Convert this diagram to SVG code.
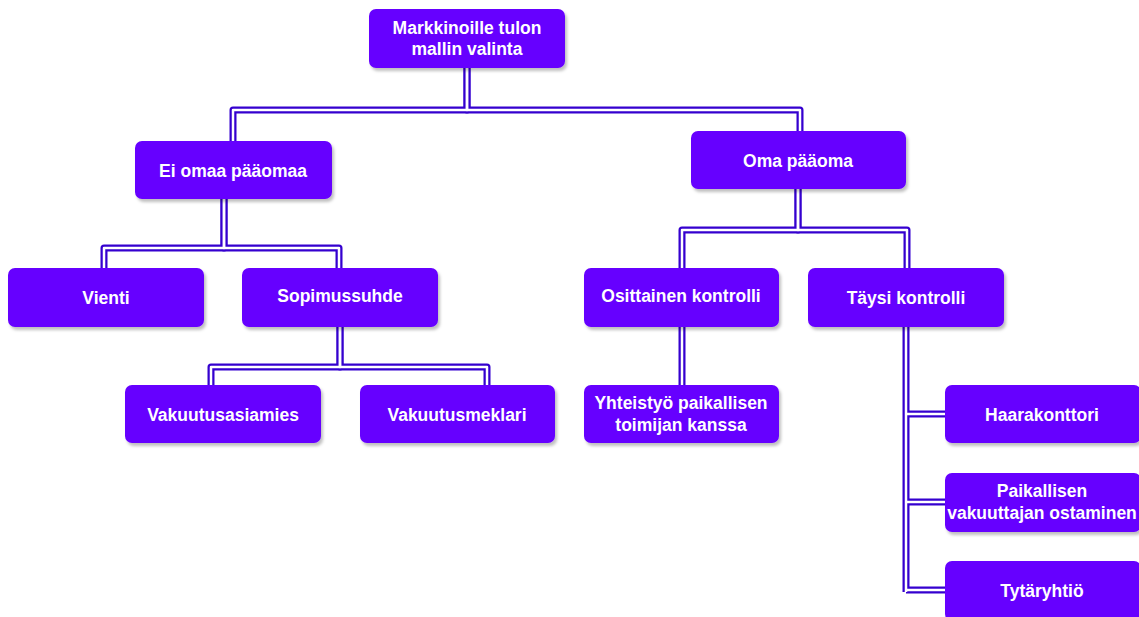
<svg xmlns="http://www.w3.org/2000/svg" width="1139" height="617" viewBox="0 0 1139 617">
<defs>
<filter id="sh" x="-10%" y="-10%" width="130%" height="140%">
<feDropShadow dx="2" dy="3" stdDeviation="1.5" flood-color="#000" flood-opacity="0.25"/>
</filter>
<style>
.n rect{fill:#6600ff;filter:url(#sh)}
.n text{fill:#fff;font-family:"Liberation Sans",Arial,sans-serif;font-weight:bold;font-size:17.5px;text-anchor:middle}
.o{fill:none;stroke:#3500cf;stroke-width:7;stroke-linejoin:round}
.i{fill:none;stroke:#fff;stroke-width:2.5;stroke-linejoin:round}
</style>
</defs>
<rect width="1139" height="617" fill="#fff"/>
<g id="connectors">
<g class="outer">
<path class="o" d="M467,68 V110 H233 V141"/>
<path class="o" d="M467,68 V110 H800 V131"/>
<path class="o" d="M224,199 V248 H104 V268"/>
<path class="o" d="M224,199 V248 H339 V268"/>
<path class="o" d="M340,327 V367 H211 V385"/>
<path class="o" d="M340,327 V367 H487 V385"/>
<path class="o" d="M798,189 V230 H682 V268"/>
<path class="o" d="M798,189 V230 H907 V268"/>
<path class="o" d="M682,327 V385"/>
<path class="o" d="M906,327 V592"/>
<path class="o" d="M906,414 H945"/>
<path class="o" d="M906,502 H945"/>
<path class="o" d="M906,590 H945"/>
</g>
<g class="inner">
<path class="i" d="M467,68 V110 H233 V141"/>
<path class="i" d="M467,68 V110 H800 V131"/>
<path class="i" d="M224,199 V248 H104 V268"/>
<path class="i" d="M224,199 V248 H339 V268"/>
<path class="i" d="M340,327 V367 H211 V385"/>
<path class="i" d="M340,327 V367 H487 V385"/>
<path class="i" d="M798,189 V230 H682 V268"/>
<path class="i" d="M798,189 V230 H907 V268"/>
<path class="i" d="M682,327 V385"/>
<path class="i" d="M906,327 V592"/>
<path class="i" d="M906,414 H945"/>
<path class="i" d="M906,502 H945"/>
<path class="i" d="M906,590 H945"/>
</g>
</g>
<g id="root" class="n"><rect x="369" y="9" width="196" height="59" rx="7"/><text x="467" y="34">Markkinoille tulon</text><text x="467" y="55">mallin valinta</text></g>
<g id="ei-omaa" class="n"><rect x="135" y="141" width="197" height="58" rx="7"/><text x="233" y="177">Ei omaa pääomaa</text></g>
<g id="oma" class="n"><rect x="691" y="131" width="215" height="58" rx="7"/><text x="798" y="167">Oma pääoma</text></g>
<g id="vienti" class="n"><rect x="8" y="268" width="196" height="59" rx="7"/><text x="106" y="304">Vienti</text></g>
<g id="sopimussuhde" class="n"><rect x="242" y="268" width="196" height="59" rx="7"/><text x="340" y="302">Sopimussuhde</text></g>
<g id="osittainen" class="n"><rect x="584" y="268" width="195" height="59" rx="7"/><text x="681" y="302">Osittainen kontrolli</text></g>
<g id="taysi" class="n"><rect x="808" y="268" width="196" height="59" rx="7"/><text x="906" y="304">Täysi kontrolli</text></g>
<g id="vakuutusasiamies" class="n"><rect x="125" y="385" width="196" height="58" rx="7"/><text x="223" y="421">Vakuutusasiamies</text></g>
<g id="vakuutusmeklari" class="n"><rect x="360" y="385" width="195" height="58" rx="7"/><text x="457" y="421">Vakuutusmeklari</text></g>
<g id="yhteistyo" class="n"><rect x="584" y="385" width="195" height="58" rx="7"/><text x="681" y="409">Yhteistyö paikallisen</text><text x="681" y="431">toimijan kanssa</text></g>
<g id="haarakonttori" class="n"><rect x="945" y="385" width="196" height="58" rx="7"/><text x="1042" y="421">Haarakonttori</text></g>
<g id="paikallisen" class="n"><rect x="945" y="473" width="196" height="59" rx="7"/><text x="1042" y="497">Paikallisen</text><text x="1042" y="519">vakuuttajan ostaminen</text></g>
<g id="tytaryhtio" class="n"><rect x="945" y="561" width="196" height="60" rx="7"/><text x="1042" y="597">Tytäryhtiö</text></g>
</svg>
